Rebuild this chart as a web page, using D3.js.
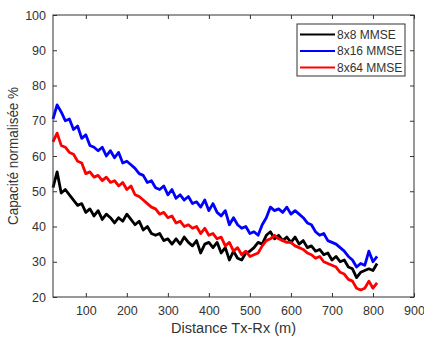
<!DOCTYPE html>
<html>
<head>
<meta charset="utf-8">
<script src="https://cdn.jsdelivr.net/npm/d3@7/dist/d3.min.js"></script>
<style>
body { margin: 0; background: #fff; }
svg { font-family: "Liberation Sans", Arial, sans-serif; }
.series { fill: none; stroke-width: 2.8; stroke-linejoin: round; }
.axis-text { fill: #333; font-size: 12.5px; }
</style>
</head>
<body>
<svg width="424" height="338"></svg>
<script>
// distances (m)
var distances = [20,30,40,50,60,70,80,90,100,110,120,130,140,150,160,170,180,190,200,210,
  220,230,240,250,260,270,280,290,300,310,320,330,340,350,360,370,380,390,400,410,
  420,430,440,450,460,470,480,490,500,510,520,530,540,550,560,570,580,590,600,610,
  620,630,640,650,660,670,680,690,700,710,720,730,740,750,760,770,780,790,800,810];

var mmse8x8 = [51,55.5,49.5,50.5,49,47.5,46,46.5,44,45,43,44.5,42,43.5,42.5,41,42.5,41.5,43.5,42,
  40.5,41.5,39,40,38,37.5,38,36,36.5,35,36.5,35,37,35.5,34.5,36,32.5,35,35.5,34,
  35.5,32.5,34,30.5,33,31,30.5,32.5,33,34,35.5,35,37.5,38.5,36.5,37.5,36,37,35.5,37,
  35,36,34,34.5,33,33.5,32,32.5,30.5,31.5,30,30.5,28.5,28,25.5,27,27.5,28,27.5,29.5];

var mmse8x16 = [70.5,74.5,72.5,70,70.5,67.5,68.5,65,66,63,62.5,61.5,62.5,60,61.5,59.5,61,58,58.5,57.5,
  56.5,55,54.5,52.5,53,51,50.5,51.5,49,50.5,48,49,47.5,48.5,46.5,47,45.5,47.5,44.5,46.5,
  44,43,44.5,40.5,42.5,40.5,39.5,40,38,38.5,37.5,40.5,42.5,45.5,44.5,45,44,45.5,43.5,44.5,
  43.5,42.5,41,40.5,38.5,37.5,38,36,35.5,35,34,33,31.5,30.5,28.5,29.5,29,33,30,31.5];

var mmse8x64 = [64,66.5,63,62.5,61,60.5,58.5,58,55,55.5,54,54.5,53,54,52.5,53,51.5,52.5,50.5,51.5,
  49,48.5,47.5,46.5,45.5,45,43.5,44,42.5,43,41,41.5,40,40.5,39.5,40,38,39.5,37.5,38,
  36.5,37,34.5,35.5,33,34,32,33,31.5,32,32.5,34.5,36,36.5,37.5,36.5,36,35.5,35.5,34.5,
  34,33.5,32.5,32,31,31.5,30,29.5,29,28.5,27,26.5,25,24.5,22.5,22,22.5,24.5,22.5,24];

var seriesNames = ['8x8 MMSE', '8x16 MMSE', '8x64 MMSE'];
var seriesColors = ['#000000', '#0000ff', '#ff0000'];
var xTicks = [100,200,300,400,500,600,700,800,900];
var yTicks = [20,30,40,50,60,70,80,90,100];

window.onload = function() {
var svg = d3.select('svg');

var plotLeft = 53;
var plotRight = 414;
var plotTop = 15;
var plotBottom = 297;

var x = d3.scaleLinear().domain([20, 900]).range([plotLeft, plotRight]);
var y = d3.scaleLinear().domain([20, 100]).range([plotBottom, plotTop]);

var axisColor = '#333';
var tickLen = 4;

// series lines
var allSeries = [mmse8x8, mmse8x16, mmse8x64];
var line = d3.line()
  .x(function(d, i) { return x(distances[i]); })
  .y(function(d) { return y(d); });

// red over black where they cross, blue last
var drawOrder = [0, 2, 1];
drawOrder.forEach(function(k) {
  svg.append('path')
    .datum(allSeries[k])
    .attr('class', 'series')
    .attr('stroke', seriesColors[k])
    .attr('d', line);
});

// axes, MATLAB style ticks on all four sides
var xAxis = svg.append('g')
  .attr('transform', 'translate(0,' + plotBottom + ')')
  .call(d3.axisBottom(x).tickValues(xTicks).tickSizeInner(-tickLen).tickSizeOuter(0).tickPadding(9));
var yAxis = svg.append('g')
  .attr('transform', 'translate(' + plotLeft + ',0)')
  .call(d3.axisLeft(y).tickValues(yTicks).tickSizeInner(-tickLen).tickSizeOuter(0).tickPadding(7));
var xAxisTop = svg.append('g')
  .attr('transform', 'translate(0,' + plotTop + ')')
  .call(d3.axisTop(x).tickValues(xTicks).tickSizeInner(-tickLen).tickSizeOuter(0).tickFormat(''));
var yAxisRight = svg.append('g')
  .attr('transform', 'translate(' + plotRight + ',0)')
  .call(d3.axisRight(y).tickValues(yTicks).tickSizeInner(-tickLen).tickSizeOuter(0).tickFormat(''));

[xAxis, yAxis, xAxisTop, yAxisRight].forEach(function(g) {
  g.select('.domain').remove();
  g.selectAll('.tick line').attr('stroke', axisColor);
  g.selectAll('.tick text')
    .attr('class', 'axis-text')
    .attr('font-family', null)
    .attr('font-size', null)
    .attr('fill', null);
});

// box
svg.append('rect')
  .attr('x', plotLeft)
  .attr('y', plotTop)
  .attr('width', plotRight - plotLeft)
  .attr('height', plotBottom - plotTop)
  .attr('fill', 'none')
  .attr('stroke', axisColor)
  .attr('stroke-width', 1);

// axis labels
svg.append('text')
  .attr('class', 'axis-text')
  .attr('x', (plotLeft + plotRight) / 2)
  .attr('y', 333)
  .attr('text-anchor', 'middle')
  .attr('textLength', 125)
  .attr('lengthAdjust', 'spacingAndGlyphs')
  .style('font-size', '14px')
  .text('Distance Tx-Rx (m)');

svg.append('text')
  .attr('class', 'axis-text')
  .attr('transform', 'translate(18,' + ((plotTop + plotBottom) / 2) + ') rotate(-90)')
  .attr('text-anchor', 'middle')
  .attr('textLength', 138)
  .attr('lengthAdjust', 'spacingAndGlyphs')
  .style('font-size', '14px')
  .text('Capacité normalisée %');

// legend
var legendX = 297;
var legendY = 24;
var legend = svg.append('g');
legend.append('rect')
  .attr('x', legendX)
  .attr('y', legendY)
  .attr('width', 108)
  .attr('height', 52)
  .attr('fill', '#fff')
  .attr('stroke', axisColor)
  .attr('stroke-width', 1);

seriesNames.forEach(function(name, i) {
  var rowY = legendY + 10.5 + i * 16.5;
  legend.append('line')
    .attr('x1', legendX + 3)
    .attr('y1', rowY)
    .attr('x2', legendX + 38)
    .attr('y2', rowY)
    .attr('stroke', seriesColors[i])
    .attr('stroke-width', 2);
  legend.append('text')
    .attr('class', 'axis-text')
    .attr('x', legendX + 40)
    .attr('y', rowY + 4)
    .style('font-size', '12px')
    .text(name);
});
};
</script>
</body>
</html>
